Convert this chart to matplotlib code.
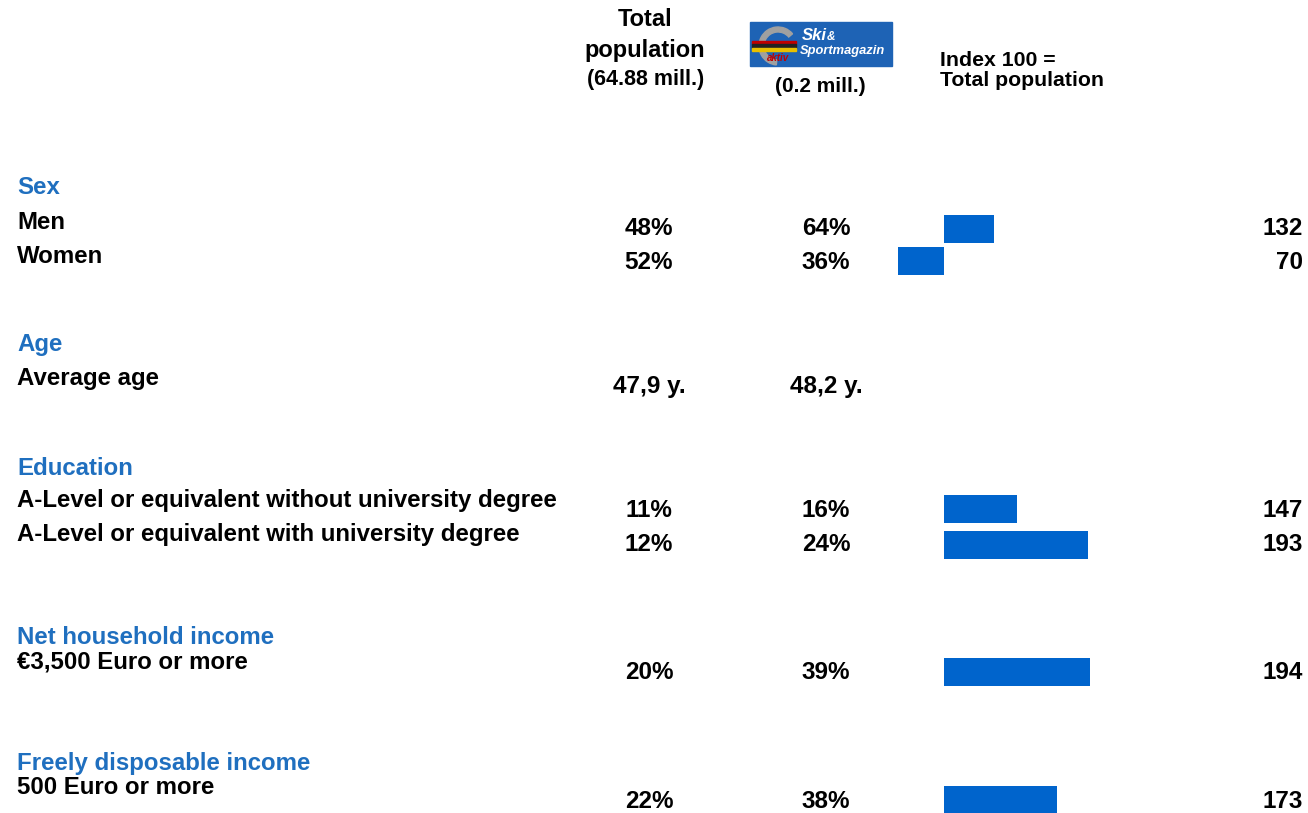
import matplotlib
matplotlib.use("Agg")
import matplotlib.pyplot as plt
from matplotlib.patches import Rectangle, Wedge

plt.rcParams['font.family'] = ['Liberation Sans', 'DejaVu Sans']

# ---- data ----
sections = ["Sex", "Age", "Education", "Net household income", "Freely disposable income"]
row_labels = ["Men", "Women", "Average age",
              "A-Level or equivalent without university degree",
              "A-Level or equivalent with university degree",
              "€3,500 Euro or more", "500 Euro or more"]
total_pop = ["48%", "52%", "47,9 y.", "11%", "12%", "20%", "22%"]
ski_mag = ["64%", "36%", "48,2 y.", "16%", "24%", "39%", "38%"]
index_vals = [132, 70, None, 147, 193, 194, 173]

# ---- layout (pixel rows) ----
W, H = 1308, 813
section_y = [187, 344, 468, 637, 763]
label_y = [222, 256, 378, 500, 534, 662, 787]
value_y = [228, 262, 386, 510, 544, 672, 801]
bar_y = [229, 261, None, 509, 545, 672, 800]

BLUE_HEAD = "#1F6FBF"
BAR = "#0064CC"
FS_LAB = 17.3
FS_VAL = 17.5

fig = plt.figure(figsize=(W / 100, H / 100), dpi=100)
ax = fig.add_axes([0, 0, 1, 1])
ax.set_xlim(0, W)
ax.set_ylim(H, 0)
ax.axis("off")

# bar axes: x in index units, y in pixel rows
px_per_unit = 1.55
base_px = 944
x_lo = 100 - base_px / px_per_unit
x_hi = 100 + (W - base_px) / px_per_unit
bax = fig.add_axes([0, 0, 1, 1], zorder=0)
bax.set_xlim(x_lo, x_hi)
bax.set_ylim(H, 0)
bax.axis("off")
for v, y in zip(index_vals, bar_y):
    if v is None:
        continue
    bax.barh(y, v - 100, left=100, height=28, color=BAR, edgecolor="none")

# headers
ax.text(645, 20, "Total", ha="center", va="center", fontsize=17, fontweight="bold")
ax.text(645, 50, "population", ha="center", va="center", fontsize=17, fontweight="bold")
ax.text(646, 80, "(64.88 mill.)", ha="center", va="center", fontsize=15.5, fontweight="bold")
ax.text(820, 87, "(0.2 mill.)", ha="center", va="center", fontsize=15, fontweight="bold")
ax.text(940, 60, "Index 100 =", ha="left", va="center", fontsize=15.3, fontweight="bold")
ax.text(940, 81, "Total population", ha="left", va="center", fontsize=15.3, fontweight="bold")

# logo
ax.add_patch(Rectangle((750, 22), 142, 44, color="#1E63B5", zorder=2))
ax.add_patch(Wedge((778, 46), 19, 95, 320, width=5, color="#A0A0A0", zorder=3))
for i, c in enumerate(["#C00000", "#222222", "#E8C000"]):
    ax.add_patch(Rectangle((752, 41 + i * 3.5), 44, 3.5, color=c, zorder=4))
ax.text(802, 35, "Ski", ha="left", va="center", fontsize=12, fontweight="bold",
        style="italic", color="white", zorder=5)
ax.text(827, 37, "&", ha="left", va="center", fontsize=8.5, fontweight="bold",
        style="italic", color="white", zorder=5)
ax.text(800, 51, "Sportmagazin", ha="left", va="center", fontsize=9.3, fontweight="bold",
        style="italic", color="white", zorder=5)
ax.text(778, 58, "aktiv", ha="center", va="center", fontsize=7, fontweight="bold",
        style="italic", color="#C00000", zorder=5)

# sections
for s, y in zip(sections, section_y):
    ax.text(17, y, s, ha="left", va="center", fontsize=FS_LAB, fontweight="bold", color=BLUE_HEAD)

# rows
for lab, ly, tp, sm, v, vy in zip(row_labels, label_y, total_pop, ski_mag, index_vals, value_y):
    ax.text(17, ly, lab, ha="left", va="center", fontsize=FS_LAB, fontweight="bold")
    ax.text(649, vy, tp, ha="center", va="center", fontsize=FS_VAL, fontweight="bold")
    ax.text(826, vy, sm, ha="center", va="center", fontsize=FS_VAL, fontweight="bold")
    if v is not None:
        ax.text(1303, vy, str(v), ha="right", va="center", fontsize=FS_VAL, fontweight="bold")

fig.savefig("out.png", dpi=100)
